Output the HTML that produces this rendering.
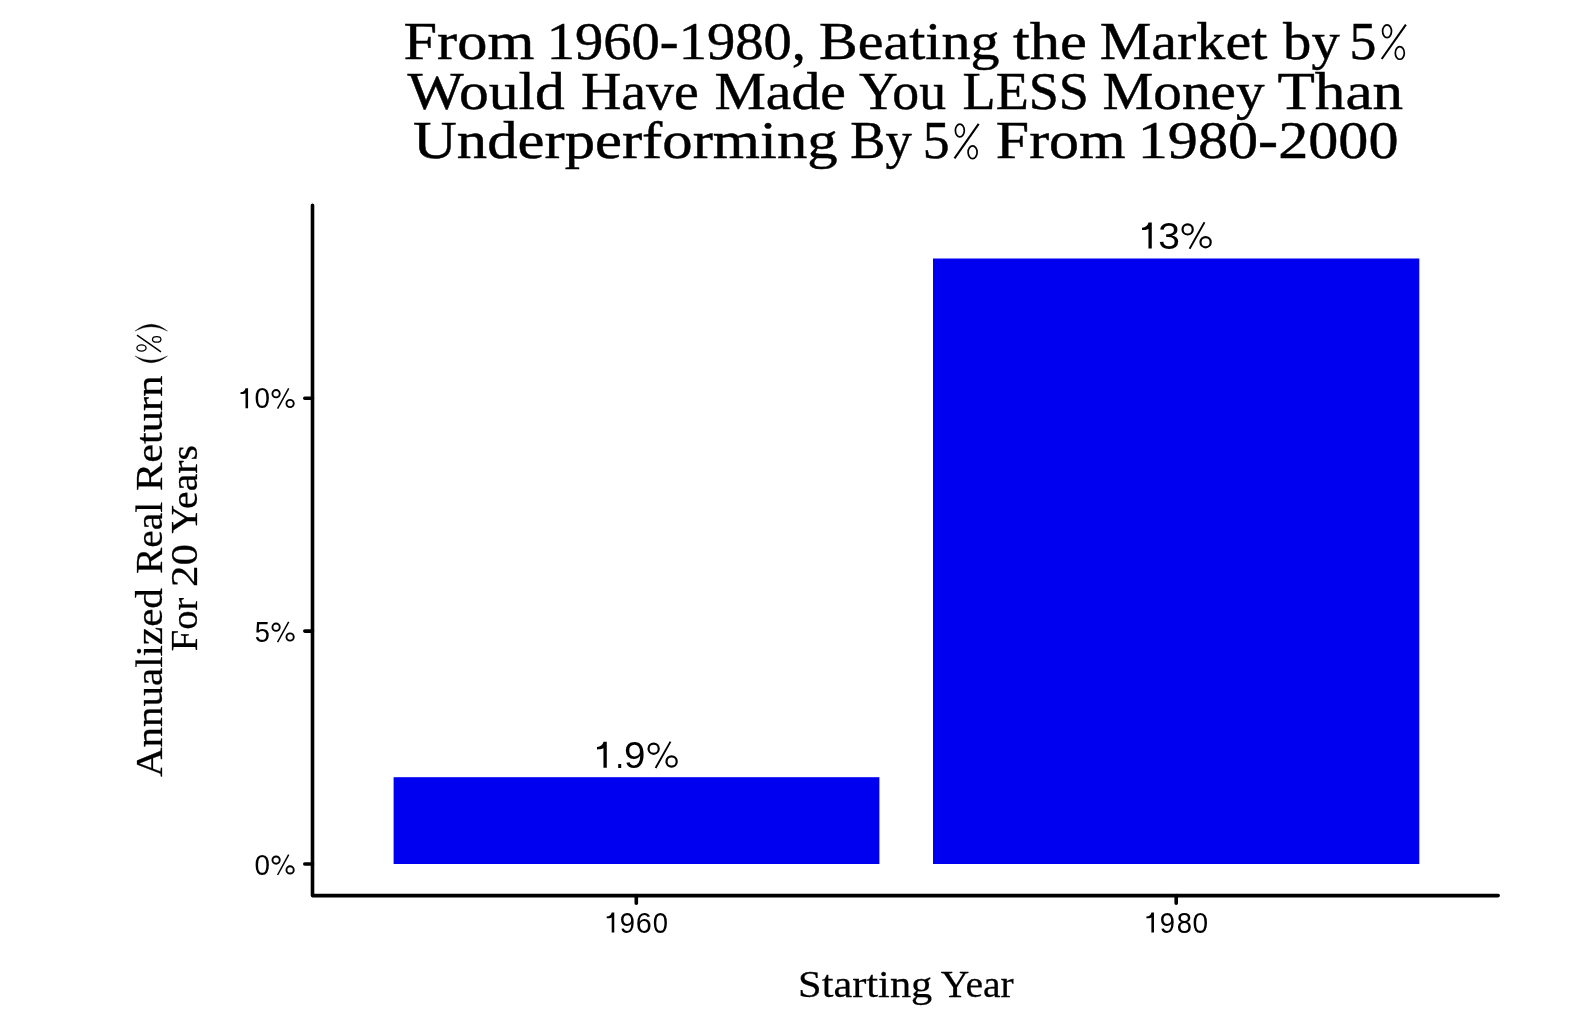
<!DOCTYPE html>
<html>
<head>
<meta charset="utf-8">
<style>
html,body{margin:0;padding:0;background:#fff;width:1590px;height:1016px;overflow:hidden}
svg{position:absolute;left:0;top:0;display:block;will-change:transform}
</style>
</head>
<body>
<svg width="1590" height="1016" viewBox="0 0 1590 1016">
<rect x="0" y="0" width="1590" height="1016" fill="#ffffff"/>
<g font-family="Liberation Serif, serif" fill="#000" stroke="#000">
<text transform="translate(403.57 59.4) scale(1.1342 1)" font-size="53.2" stroke-width="0.45">From</text>
<text transform="translate(546.75 59.4) scale(1.0633 1)" font-size="53.2" stroke-width="0.45">1960-1980,</text>
<text transform="translate(819.11 59.4) scale(1.0896 1)" font-size="53.2" stroke-width="0.45">Beating</text>
<text transform="translate(1013.00 59.4) scale(1.1381 1)" font-size="53.2" stroke-width="0.45">the</text>
<text transform="translate(1099.71 59.4) scale(1.0908 1)" font-size="53.2" stroke-width="0.45">Market</text>
<text transform="translate(1283.10 59.4) scale(1.0642 1)" font-size="53.2" stroke-width="0.45">by</text>
<text transform="translate(1349.57 59.4) scale(1.0091 1)" font-size="53.2" stroke-width="0.45">5</text>
<text transform="translate(407.60 108.9) scale(1.1186 1)" font-size="53.2" stroke-width="0.45">Would</text>
<text transform="translate(580.95 108.9) scale(1.0500 1)" font-size="53.2" stroke-width="0.45">Have</text>
<text transform="translate(714.41 108.9) scale(1.0857 1)" font-size="53.2" stroke-width="0.45">Made</text>
<text transform="translate(858.90 108.9) scale(1.0093 1)" font-size="53.2" stroke-width="0.45">You</text>
<text transform="translate(962.58 108.9) scale(1.0175 1)" font-size="53.2" stroke-width="0.45">LESS</text>
<text transform="translate(1102.52 108.9) scale(1.0753 1)" font-size="53.2" stroke-width="0.45">Money</text>
<text transform="translate(1277.45 108.9) scale(1.1509 1)" font-size="53.2" stroke-width="0.45">Than</text>
<text transform="translate(413.06 158.3) scale(1.1405 1)" font-size="53.2" stroke-width="0.45">Underperforming</text>
<text transform="translate(850.31 158.3) scale(0.9902 1)" font-size="53.2" stroke-width="0.45">By</text>
<text transform="translate(922.77 158.3) scale(1.0091 1)" font-size="53.2" stroke-width="0.45">5</text>
<text transform="translate(995.87 158.3) scale(1.1254 1)" font-size="53.2" stroke-width="0.45">From</text>
<text transform="translate(1137.78 158.3) scale(1.1311 1)" font-size="53.2" stroke-width="0.45">1980-2000</text>
<text transform="translate(162.0 777.00) rotate(-90) scale(1.0699 1)" font-size="38.3" stroke-width="0.25">Annualized</text>
<text transform="translate(162.0 573.93) rotate(-90) scale(1.0275 1)" font-size="38.3" stroke-width="0.25">Real</text>
<text transform="translate(162.0 491.11) rotate(-90) scale(1.1087 1)" font-size="38.3" stroke-width="0.25">Return</text>
<text transform="translate(197.4 651.20) rotate(-90) scale(1.0038 1)" font-size="38.3" stroke-width="0.25">For</text>
<text transform="translate(197.4 586.95) rotate(-90) scale(1.1229 1)" font-size="38.3" stroke-width="0.25">20</text>
<text transform="translate(197.4 533.50) rotate(-90) scale(1.0333 1)" font-size="38.3" stroke-width="0.25">Years</text>
<text transform="translate(798.09 997.0) scale(1.1067 1)" font-size="38.3" stroke-width="0.25">Starting</text>
<text transform="translate(940.80 997.0) scale(1.0343 1)" font-size="38.3" stroke-width="0.25">Year</text>
<g fill="none" stroke="#000"><ellipse cx="1387.05" cy="31.20" rx="4.45" ry="6.4" stroke-width="1.7"/><ellipse cx="1399.80" cy="52.90" rx="4.5" ry="6.35" stroke-width="1.7"/><path d="M1381.70 59.00 L1405.90 24.60" stroke-width="2.1"/></g>
<g fill="none" stroke="#000"><ellipse cx="959.85" cy="130.50" rx="4.45" ry="6.4" stroke-width="1.7"/><ellipse cx="972.60" cy="152.20" rx="4.5" ry="6.35" stroke-width="1.7"/><path d="M954.50 158.30 L978.70 123.90" stroke-width="2.1"/></g>
<path d="M135 331 Q151 317.5 167.5 331 Q151 322.5 135 331 Z M135 356 Q151 369.5 167.5 356 Q151 364.5 135 356 Z" stroke-width="0.3"/>
<g fill="none" stroke="#000"><path d="M137 335.2 L161 351.9" stroke-width="1.5"/><ellipse cx="141.5" cy="348" rx="4.6" ry="3.1" stroke-width="1.3"/><ellipse cx="156.7" cy="339.4" rx="4.2" ry="2.8" stroke-width="1.3"/></g>
</g>
<rect x="393.6" y="777.2" width="485.8" height="86.8" fill="#0000f0"/>
<rect x="933" y="258.5" width="486.3" height="605.5" fill="#0000f0"/>
<g stroke="#000" stroke-width="3.6" stroke-linecap="round" stroke-linejoin="round" fill="none">
<path d="M312.5 205.3 L312.5 895.6 L1498.2 895.6"/>
<path d="M304.8 398.2 H312.5 M304.8 631.1 H312.5 M304.8 864 H312.5"/>
<path d="M636.3 895.6 V903.2 M1176.2 895.6 V903.2"/>
</g>
<g font-family="Liberation Sans, sans-serif" fill="#000">
<text transform="translate(254.54 408.3) scale(0.9571 1)" font-size="29.1">0</text>
<text transform="translate(254.66 641.8) scale(0.9357 1)" font-size="29.1">5</text>
<text transform="translate(254.54 874.7) scale(0.9571 1)" font-size="29.1">0</text>
<text transform="translate(619.86 932.6) scale(0.9429 1)" font-size="29.1">9</text>
<text transform="translate(635.82 932.6) scale(0.9923 1)" font-size="29.1">6</text>
<text transform="translate(652.86 932.6) scale(0.9429 1)" font-size="29.1">0</text>
<text transform="translate(1159.86 932.6) scale(0.9429 1)" font-size="29.1">9</text>
<text transform="translate(1176.86 932.6) scale(0.9429 1)" font-size="29.1">8</text>
<text transform="translate(1192.54 932.6) scale(0.9643 1)" font-size="29.1">0</text>
<text transform="translate(615.15 767.8) scale(0.8500 1)" font-size="37.6">.</text>
<text transform="translate(623.95 767.8) scale(1.0235 1)" font-size="37.6">9</text>
<text transform="translate(1158.33 248.5) scale(1.0353 1)" font-size="37.6">3</text>
<path transform="translate(240.5 408.3) scale(29.1)" d="M0.260 0 H0.172 V-0.52 C0.125 -0.497 0.06 -0.49 0 -0.49 V-0.552 C0.09 -0.556 0.15 -0.6 0.174 -0.69 H0.260 Z"/>
<path transform="translate(606.7 932.6) scale(29.1)" d="M0.260 0 H0.172 V-0.52 C0.125 -0.497 0.06 -0.49 0 -0.49 V-0.552 C0.09 -0.556 0.15 -0.6 0.174 -0.69 H0.260 Z"/>
<path transform="translate(1146.4 932.6) scale(29.1)" d="M0.260 0 H0.172 V-0.52 C0.125 -0.497 0.06 -0.49 0 -0.49 V-0.552 C0.09 -0.556 0.15 -0.6 0.174 -0.69 H0.260 Z"/>
<path transform="translate(597 767.8) scale(37.6)" d="M0.260 0 H0.172 V-0.52 C0.125 -0.497 0.06 -0.49 0 -0.49 V-0.552 C0.09 -0.556 0.15 -0.6 0.174 -0.69 H0.260 Z"/>
<path transform="translate(1142 248.5) scale(37.6)" d="M0.260 0 H0.172 V-0.52 C0.125 -0.497 0.06 -0.49 0 -0.49 V-0.552 C0.09 -0.556 0.15 -0.6 0.174 -0.69 H0.260 Z"/>
<g fill="none" stroke="#000"><circle cx="276.1" cy="393.70" r="3.65" stroke-width="1.9"/><circle cx="290.1" cy="403.50" r="3.65" stroke-width="1.9"/><path d="M277.6 408.60 L288.7 388.30" stroke-width="1.5"/></g>
<g fill="none" stroke="#000"><circle cx="276.1" cy="627.20" r="3.65" stroke-width="1.9"/><circle cx="290.1" cy="637.00" r="3.65" stroke-width="1.9"/><path d="M277.6 642.10 L288.7 621.80" stroke-width="1.5"/></g>
<g fill="none" stroke="#000"><circle cx="276.1" cy="860.10" r="3.65" stroke-width="1.9"/><circle cx="290.1" cy="869.90" r="3.65" stroke-width="1.9"/><path d="M277.6 875.00 L288.7 854.70" stroke-width="1.5"/></g>
<g fill="none" stroke="#000"><circle cx="1187.65" cy="229.40" r="5.1" stroke-width="2.2"/><circle cx="1205.6" cy="242.20" r="5.1" stroke-width="2.2"/><path d="M1189.6 248.70 L1204.5 222.30" stroke-width="1.9"/></g>
<g fill="none" stroke="#000"><circle cx="653.65" cy="748.70" r="5.1" stroke-width="2.2"/><circle cx="671.6" cy="761.50" r="5.1" stroke-width="2.2"/><path d="M655.6 768.00 L670.5 741.60" stroke-width="1.9"/></g>
</g>
</svg>
</body>
</html>
